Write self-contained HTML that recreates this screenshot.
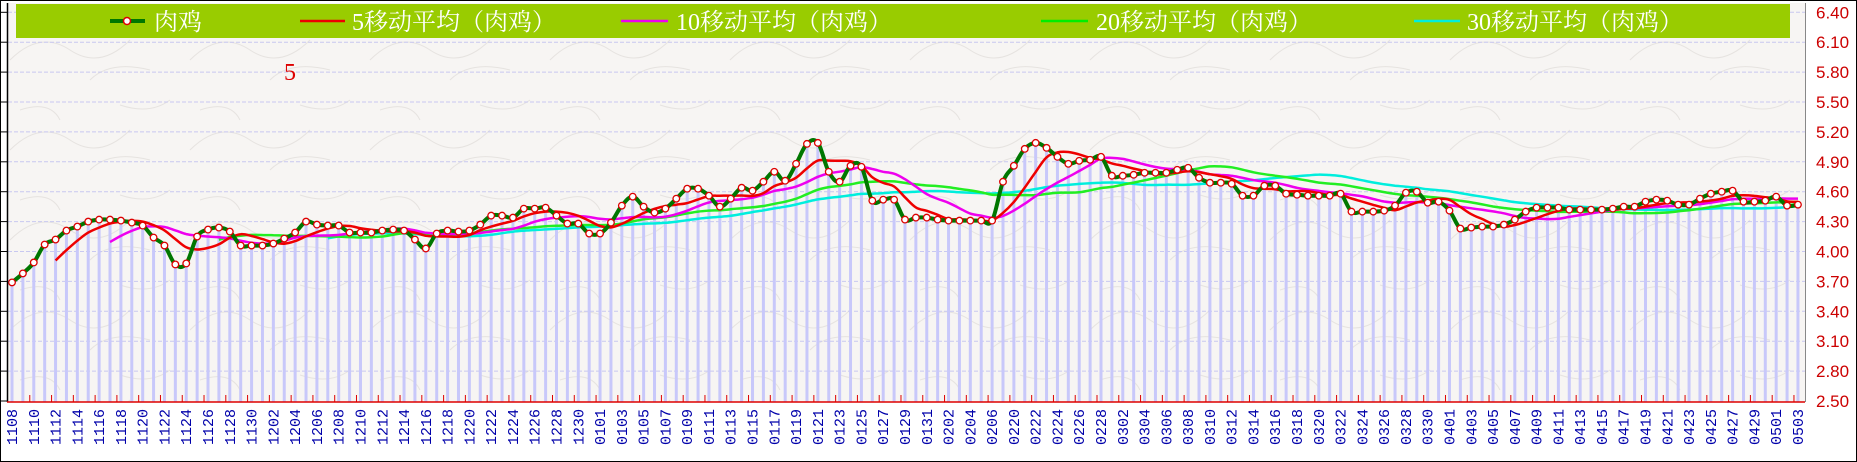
<!DOCTYPE html>
<html><head><meta charset="utf-8"><style>
html,body{margin:0;padding:0;background:#fff}
svg{display:block}
</style></head><body>
<svg id="chart" width="1857" height="462" xmlns="http://www.w3.org/2000/svg">
<defs>
<pattern id="paper" width="180" height="90" patternUnits="userSpaceOnUse">
<rect width="180" height="90" fill="#f7f5f3"/>
<path d="M10 60 Q40 30 70 50 T130 40 M90 80 Q110 60 150 70 M20 20 Q50 10 60 30 M120 15 Q150 25 170 10" stroke="#e6e3e0" fill="none" stroke-width="1"/>
</pattern>
</defs>
<rect x="0.5" y="0.5" width="1856" height="461" fill="#fff" stroke="#000"/>
<rect x="7" y="3" width="1798" height="399" fill="url(#paper)"/>
<g id="grid"></g>
<g id="bars"></g>
<g id="lines"></g>
<g id="marks"></g>
<line x1="7.5" y1="3" x2="7.5" y2="402" stroke="#000" stroke-width="1.5"/>
<line x1="1805.5" y1="3" x2="1805.5" y2="402" stroke="#888" stroke-width="1"/>
<line x1="7" y1="402" x2="1805" y2="402" stroke="#dd0000" stroke-width="1.5"/>
<g id="xticks"></g>
<g id="xlabels"></g>
<g id="ylabels"></g>
<g>
<rect x="16" y="4" width="1774" height="34" fill="#99cc00"/>
<g>
<line x1="110" y1="21" x2="145" y2="21" stroke="#007700" stroke-width="4"/>
<circle cx="127" cy="21" r="3.5" fill="#fff" stroke="#dd0000" stroke-width="1.5"/>
<text x="154" y="30" fill="#fff" font-size="24" font-family="'Liberation Serif','Noto Serif CJK SC',serif">肉鸡</text></g>
<g>
<line x1="300" y1="21" x2="345" y2="21" stroke="#ee0000" stroke-width="2.5"/>
<text x="352" y="30" fill="#fff" font-size="24" font-family="'Liberation Serif','Noto Serif CJK SC',serif">5移动平均（肉鸡）</text></g>
<g>
<line x1="621" y1="21" x2="668" y2="21" stroke="#ee00ee" stroke-width="2.5"/>
<text x="676" y="30" fill="#fff" font-size="24" font-family="'Liberation Serif','Noto Serif CJK SC',serif">10移动平均（肉鸡）</text></g>
<g>
<line x1="1041" y1="21" x2="1088" y2="21" stroke="#00ee00" stroke-width="2.5"/>
<text x="1096" y="30" fill="#fff" font-size="24" font-family="'Liberation Serif','Noto Serif CJK SC',serif">20移动平均（肉鸡）</text></g>
<g>
<line x1="1414" y1="21" x2="1460" y2="21" stroke="#00eedd" stroke-width="2.5"/>
<text x="1467" y="30" fill="#fff" font-size="24" font-family="'Liberation Serif','Noto Serif CJK SC',serif">30移动平均（肉鸡）</text></g>
</g>
<text x="284" y="80" fill="#dd0000" font-size="24" font-family="'Liberation Serif',serif">5</text>
</svg>
<script>
const categories = ["1108","1109","1110","1111","1112","1113","1114","1115","1116","1117","1118","1119","1120","1121","1122","1123","1124","1125","1126","1127","1128","1129","1130","1201","1202","1203","1204","1205","1206","1207","1208","1209","1210","1211","1212","1213","1214","1215","1216","1217","1218","1219","1220","1221","1222","1223","1224","1225","1226","1227","1228","1229","1230","1231","0101","0102","0103","0104","0105","0106","0107","0108","0109","0110","0111","0112","0113","0114","0115","0116","0117","0118","0119","0120","0121","0122","0123","0124","0125","0126","0127","0128","0129","0130","0131","0201","0202","0203","0204","0205","0206","0219","0220","0221","0222","0223","0224","0225","0226","0227","0228","0301","0302","0303","0304","0305","0306","0307","0308","0309","0310","0311","0312","0313","0314","0315","0316","0317","0318","0319","0320","0321","0322","0323","0324","0325","0326","0327","0328","0329","0330","0331","0401","0402","0403","0404","0405","0406","0407","0408","0409","0410","0411","0412","0413","0414","0415","0416","0417","0418","0419","0420","0421","0422","0423","0424","0425","0426","0427","0428","0429","0430","0501","0502","0503"];
const priceValues = [3.69,3.78,3.89,4.07,4.12,4.21,4.25,4.30,4.32,4.32,4.31,4.29,4.26,4.14,4.06,3.87,3.88,4.15,4.22,4.24,4.20,4.06,4.06,4.06,4.08,4.13,4.19,4.30,4.27,4.26,4.26,4.19,4.19,4.19,4.21,4.22,4.21,4.12,4.03,4.18,4.21,4.20,4.21,4.27,4.36,4.36,4.34,4.43,4.43,4.44,4.36,4.28,4.28,4.18,4.18,4.29,4.46,4.55,4.45,4.39,4.43,4.53,4.63,4.63,4.56,4.45,4.53,4.64,4.61,4.70,4.80,4.71,4.88,5.08,5.09,4.80,4.70,4.86,4.85,4.51,4.52,4.52,4.32,4.34,4.34,4.32,4.31,4.31,4.31,4.31,4.31,4.70,4.86,5.03,5.09,5.04,4.95,4.88,4.91,4.92,4.95,4.76,4.76,4.77,4.79,4.79,4.79,4.82,4.84,4.74,4.69,4.69,4.68,4.56,4.56,4.66,4.66,4.58,4.57,4.56,4.56,4.56,4.58,4.40,4.40,4.40,4.41,4.46,4.59,4.60,4.49,4.50,4.41,4.23,4.24,4.25,4.25,4.27,4.32,4.40,4.44,4.44,4.44,4.42,4.42,4.42,4.42,4.43,4.45,4.45,4.50,4.52,4.51,4.47,4.47,4.53,4.58,4.60,4.61,4.50,4.50,4.51,4.55,4.46,4.47];
const maPeriods = [30,20,10,5];
const maColors = ["#00eedd","#22ee22","#ee00ee","#ee0000"];
const yTicks = [2.50,2.80,3.10,3.40,3.70,4.00,4.30,4.60,4.90,5.20,5.50,5.80,6.10,6.40];

const NS="http://www.w3.org/2000/svg";
const X0=12, DX=10.89, YMIN=2.5, Y0=401, PXPER=29.9/0.3;
function xs(i){return X0+i*DX;}
function ys(v){return Y0-(v-YMIN)*PXPER;}
function mk(tag,attrs,parent){const e=document.createElementNS(NS,tag);for(const k in attrs)e.setAttribute(k,attrs[k]);parent.appendChild(e);return e;}
function smooth(pts){
  if(pts.length<2)return "";
  let d="M"+pts[0][0].toFixed(1)+" "+pts[0][1].toFixed(1);
  for(let i=0;i<pts.length-1;i++){
    const p0=pts[i-1]||pts[i],p1=pts[i],p2=pts[i+1],p3=pts[i+2]||p2;
    const t=0.18;
    const c1=[p1[0]+(p2[0]-p0[0])*t,p1[1]+(p2[1]-p0[1])*t];
    const c2=[p2[0]-(p3[0]-p1[0])*t,p2[1]-(p3[1]-p1[1])*t];
    d+=" C"+c1[0].toFixed(1)+" "+c1[1].toFixed(1)+" "+c2[0].toFixed(1)+" "+c2[1].toFixed(1)+" "+p2[0].toFixed(1)+" "+p2[1].toFixed(1);
  }
  return d;
}
const grid=document.getElementById('grid');
yTicks.forEach(v=>{
  const y=ys(v);
  if(v>YMIN){
    const g=mk('line',{x1:8,x2:1805,y1:y,y2:y,stroke:'#c8c8f0','stroke-dasharray':'4,2','stroke-width':1},grid);
    
    
  }
  const t=mk('line',{x1:1,x2:8,y1:y,y2:y,stroke:'#000','stroke-width':1},grid);
  
  
  const lab=mk('text',{x:1816,y:y+6,fill:'#cc0000','font-size':17,'font-family':"'Liberation Sans',sans-serif"},document.getElementById('ylabels'));
  lab.textContent=v.toFixed(2);
  
  
});
const bars=document.getElementById('bars');
priceValues.forEach((v,i)=>{
  const b=mk('rect',{x:xs(i)-1.5,y:ys(v),width:3,height:402-ys(v),fill:'#c8c8fa'},bars);
  
  
});
const lines=document.getElementById('lines');
maPeriods.forEach((p,k)=>{
  const pts=[];
  for(let i=p-1;i<priceValues.length;i++){
    let s=0;for(let j=i-p+1;j<=i;j++)s+=priceValues[j];
    pts.push([xs(i),ys(s/p)]);
  }
  const l=mk('path',{d:smooth(pts),fill:'none',stroke:maColors[k],'stroke-width':2.5},lines);
  
  
});
const mainPts=priceValues.map((v,i)=>[xs(i),ys(v)]);
const ml=mk('path',{d:smooth(mainPts),fill:'none',stroke:'#007700','stroke-width':4},lines);


const marks=document.getElementById('marks');
mainPts.forEach(p=>{
  const c=mk('circle',{cx:p[0],cy:p[1],r:3.3,fill:'#fff',stroke:'#dd0000','stroke-width':1.3},marks);
  
  
});
const xt=document.getElementById('xticks'),xl=document.getElementById('xlabels');
categories.forEach((c,i)=>{
  if(i%2)return;
  const x=xs(i);
  if(i>0){
    const t=mk('line',{x1:x-4,x2:x-4,y1:395,y2:402,stroke:'#dd0000','stroke-width':1},xt);
    
    
  }
  const lab=mk('text',{x:0,y:0,fill:'#0000aa','font-size':15,'font-family':"'Liberation Mono',monospace",'text-anchor':'end',transform:'translate('+(x+5)+',409) rotate(-90)'},xl);
  lab.textContent=c;
  
  
});
</script>
</body></html>
